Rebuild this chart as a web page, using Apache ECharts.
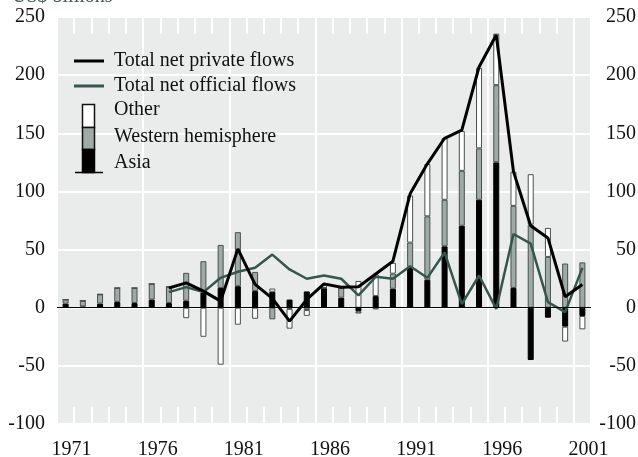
<!DOCTYPE html>
<html>
<head>
<meta charset="utf-8">
<script src="https://cdn.jsdelivr.net/npm/echarts@6/dist/echarts.min.js"></script>
<style>
  html, body { margin: 0; padding: 0; background: #fff; }
  #main { width: 638px; height: 457px; }
</style>
</head>
<body>
<div id="main"></div>
<script>
  // US$ billions, 1971-2001
  var years = ['1971', '1972', '1973', '1974', '1975', '1976', '1977', '1978', '1979', '1980',
    '1981', '1982', '1983', '1984', '1985', '1986', '1987', '1988', '1989', '1990',
    '1991', '1992', '1993', '1994', '1995', '1996', '1997', '1998', '1999', '2000', '2001']
  var asia = [3.5, 1, 3.5, 5, 4, 7, 4, 6, 13, 17,
    18.5, 14.3, 13.7, 7, 14, 17, 8.6, -3, 10, 16.3,
    35, 24, 52.8, 70.5, 92.8, 125, 17, -45, -8.6, -16.3, -7.1]
  var westHemi = [3.5, 5, 8, 12, 13, 13.5, 14, 24, 27, 37,
    46.5, 16.5, -10, -1, -2, 0, 8.5, -2, -1.5, 13,
    21, 54.6, 40, 47.2, 44.2, 66.4, 70.6, 71.4, 43.7, 38, 39]
  var other = [0, 0, 0, 0, 0, 0, 0, -9, -25, -49,
    -14.6, -9.5, 2.8, -17, -5, 2.5, 0, 23, 18.6, 9.3,
    40.5, 45, 53, 34.3, 69.3, 44.3, 29.4, 43.4, 24.9, -12.8, -11.5]
  var privateFlows = [null, null, null, null, null, null, 17, 21.4, 14.3, 5.7,
    50.6, 20, 8, -11.5, 7.1, 20.5, 17.6, 18, 29, 40,
    98, 123.7, 145.7, 152.8, 207, 234.5, 117, 70.5, 60, 9.4, 20]
  var officialFlows = [null, null, null, null, null, null, 13.4, 17.7, 13.4, 25.7,
    30.9, 34.3, 45.7, 32.9, 24.9, 27.7, 24.9, 10.6, 26.6, 24.9,
    35.7, 25.7, 47.5, 3, 27.7, -1, 63.4, 55.1, 4.8, -3.8, 34.3]
  var yTicks = [-100, -50, 0, 50, 100, 150, 200, 250]

  var serif = 'Liberation Serif'
  var greenLine = '#34564e'
  var grayBar = '#9eaaa6'
  var plotBg = '#e9eceb'

  var myChart = echarts.init(document.getElementById('main'))

  function barSeries (name, data, fill, border) {
    return {
      name: name,
      type: 'bar',
      stack: 'regions',
      barWidth: 6,
      data: data,
      itemStyle: { color: fill, borderColor: border, borderWidth: 1 },
      emphasis: { disabled: true }
    }
  }

  var valueAxis = {
    type: 'value',
    min: yTicks[0],
    max: yTicks[yTicks.length - 1],
    interval: 50,
    axisLine: { show: false },
    axisTick: { show: false },
    splitLine: { show: true, lineStyle: { color: '#ffffff', width: 2 } },
    splitArea: { show: true, areaStyle: { color: [plotBg] } },
    axisLabel: { color: '#111', fontFamily: serif, fontSize: 20, margin: 12 }
  }

  var legendFont = '20px ' + serif

  myChart.setOption({
    backgroundColor: '#ffffff',
    animation: false,
    grid: {
      left: 57,
      right: 47,
      top: 17,
      bottom: 33,
      containLabel: false,
      outerBoundsMode: 'none'
    },
    legend: {
      data: ['Total net private flows', 'Total net official flows'],
      orient: 'vertical',
      left: 74,
      top: 51,
      padding: 0,
      icon: 'rect',
      itemWidth: 30,
      itemHeight: 3,
      itemGap: 5,
      z: 100,
      textStyle: { color: '#111', fontFamily: serif, fontSize: 20, padding: [0, 0, 0, 5] },
      selectedMode: false
    },
    graphic: [
      { type: 'text', left: 12, top: -13, z: 100, style: { text: 'US$ billions', fill: '#3b5a54', font: legendFont } },
      { type: 'rect', z: 100, shape: { x: 82.5, y: 104.5, width: 12, height: 23 }, style: { fill: '#fff', stroke: '#111', lineWidth: 1.5 } },
      { type: 'rect', z: 100, shape: { x: 82.5, y: 127.5, width: 12, height: 22 }, style: { fill: grayBar, stroke: '#111', lineWidth: 1.5 } },
      { type: 'rect', z: 100, shape: { x: 82.5, y: 149.5, width: 12, height: 23 }, style: { fill: '#000', stroke: '#000', lineWidth: 1.5 } },
      { type: 'line', z: 100, shape: { x1: 75, y1: 172.5, x2: 103, y2: 172.5 }, style: { stroke: '#000', lineWidth: 1.5 } },
      { type: 'text', z: 100, x: 114, y: 110, style: { text: 'Other', fill: '#111', font: legendFont, verticalAlign: 'middle' } },
      { type: 'text', z: 100, x: 114, y: 137, style: { text: 'Western hemisphere', fill: '#111', font: legendFont, verticalAlign: 'middle' } },
      { type: 'text', z: 100, x: 114, y: 163, style: { text: 'Asia', fill: '#111', font: legendFont, verticalAlign: 'middle' } }
    ],
    xAxis: [
      {
        type: 'category',
        data: years,
        position: 'bottom',
        boundaryGap: true,
        axisLine: { show: false, onZero: false },
        axisTick: { show: true, inside: true, length: 17, interval: 0, lineStyle: { color: '#ffffff', width: 2 } },
        splitLine: { show: true, interval: function (i) { return i % 5 === 0 }, lineStyle: { color: '#ffffff', width: 2 } },
        axisLabel: { interval: 4, color: '#111', fontFamily: serif, fontSize: 20, margin: 16, padding: [0, 0, 0, 12] }
      },
      {
        type: 'category',
        data: years,
        position: 'top',
        boundaryGap: true,
        axisLine: { show: false, onZero: false },
        axisTick: { show: true, inside: true, length: 17, interval: 0, lineStyle: { color: '#ffffff', width: 2 } },
        splitLine: { show: false },
        axisLabel: { show: false }
      }
    ],
    yAxis: [
      Object.assign({}, valueAxis, { position: 'left' }),
      Object.assign({}, valueAxis, {
        position: 'right',
        splitLine: { show: false },
        splitArea: { show: false },
        axisLabel: { color: '#111', fontFamily: serif, fontSize: 20, margin: 45, align: 'right' }
      })
    ],
    series: [
      Object.assign(barSeries('Asia', asia, '#000000', '#000000'), {
        markLine: {
          silent: true,
          symbol: 'none',
          label: { show: false },
          lineStyle: { color: '#000', width: 1, type: 'solid' },
          data: [{ yAxis: 0 }]
        }
      }),
      barSeries('Western hemisphere', westHemi, grayBar, '#4a4f4d'),
      barSeries('Other', other, '#ffffff', '#4a4f4d'),
      {
        name: 'Total net official flows',
        type: 'line',
        data: officialFlows,
        symbol: 'none',
        lineStyle: { color: greenLine, width: 2.5 },
        itemStyle: { color: greenLine },
        emphasis: { disabled: true }
      },
      {
        name: 'Total net private flows',
        type: 'line',
        data: privateFlows,
        symbol: 'none',
        lineStyle: { color: '#000', width: 3 },
        itemStyle: { color: '#000' },
        emphasis: { disabled: true }
      }
    ]
  })
</script>
</body>
</html>
